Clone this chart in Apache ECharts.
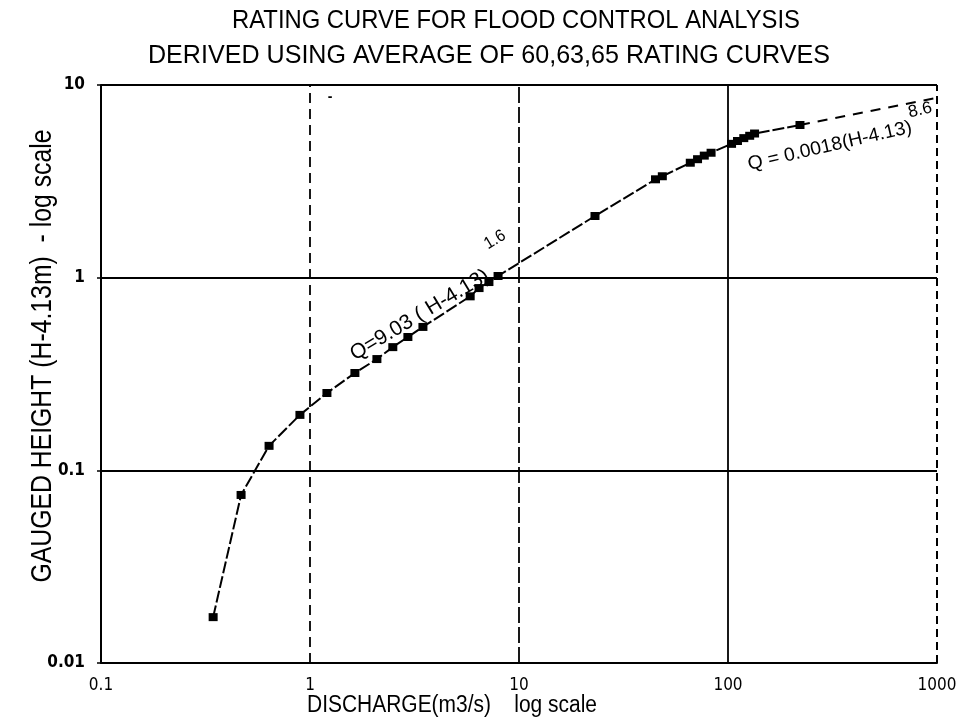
<!DOCTYPE html>
<html><head><meta charset="utf-8">
<script src="https://cdn.jsdelivr.net/npm/echarts@6/dist/echarts.min.js"></script>
<style>html,body{margin:0;padding:0;background:#fff}#c{width:966px;height:723px}</style>
</head><body><div id="c"></div>
<script>
// Rating curve observations (discharge m3/s, gauged height H-4.13 m)
const discharge    = [0.344, 0.468, 0.637, 0.895, 1.205, 1.64, 2.09, 2.49, 2.94, 3.47, 5.84, 6.44, 7.18, 7.94, 23.1, 45, 48.5, 66, 71.5, 77, 83, 104, 111, 119, 127, 134, 221];
const gaugedHeight = [0.0173, 0.0745, 0.134, 0.194, 0.252, 0.32, 0.378, 0.436, 0.492, 0.555, 0.80, 0.883, 0.949, 1.02, 2.09, 3.24, 3.36, 3.95, 4.12, 4.3, 4.45, 4.95, 5.12, 5.3, 5.45, 5.6, 6.2];
// dashed extrapolation
const extDischarge = [221, 980];
const extHeight    = [6.2, 8.55];
// tick labels
const xTickLabels = ['0.1', '1', '10', '100', '1000'];
const yTickLabels = ['0.01', '0.1', '1', '10'];

const NARROW = '"Liberation Sans Narrow","DejaVu Sans Condensed",sans-serif';
const SANS = '"Liberation Sans",Arial,sans-serif';

const chart = echarts.init(document.getElementById('c'), null, {renderer: 'canvas'});
const pts = discharge.map((d, i) => [d, gaugedHeight[i]]);
const ext = extDischarge.map((d, i) => [d, extHeight[i]]);

function fmt(v, list) {
  for (const s of list) if (Math.abs(parseFloat(s) - v) / v < 1e-6) return s;
  return '';
}

const option = {
  animation: false,
  backgroundColor: '#fff',
  grid: {left: 101, right: 29, top: 85, bottom: 60},
  xAxis: {
    type: 'log', logBase: 10, min: 0.1, max: 1000,
    axisLine: {show: true, lineStyle: {color: '#000', width: 2}},
    axisTick: {show: false},
    splitLine: {show: false},
    minorTick: {show: false},
    axisLabel: {color: '#000', fontFamily: NARROW, fontSize: 17, margin: 14,
      formatter: v => fmt(v, xTickLabels)}
  },
  yAxis: {
    type: 'log', logBase: 10, min: 0.01, max: 10,
    axisLine: {show: true, lineStyle: {color: '#000', width: 2}},
    axisTick: {show: true, length: 4, lineStyle: {color: '#000', width: 1.5}},
    splitLine: {show: false},
    axisLabel: {color: '#000', fontFamily: NARROW, fontSize: 17, margin: 16, fontWeight: 'bold',
      formatter: v => fmt(v, yTickLabels)}
  },
  series: [
    {
      type: 'line', data: [], silent: true,
      markLine: {
        silent: true, symbol: 'none', label: {show: false}, animation: false,
        data: [
          {xAxis: 1, lineStyle: {color: '#000', width: 1.8, type: [10, 6]}},
          {xAxis: 10, lineStyle: {color: '#000', width: 1.8, type: [16, 4]}},
          {xAxis: 100, lineStyle: {color: '#000', width: 1.8, type: 'solid'}},
          {xAxis: 1000, lineStyle: {color: '#000', width: 2, type: [8, 5]}},
          {yAxis: 0.1, lineStyle: {color: '#000', width: 1.8, type: 'solid'}},
          {yAxis: 1, lineStyle: {color: '#000', width: 1.8, type: 'solid'}},
          {yAxis: 10, lineStyle: {color: '#000', width: 2, type: 'solid'}}
        ]
      }
    },
    {
      type: 'line', data: pts, silent: true,
      symbol: 'rect', symbolSize: [9, 8], showSymbol: true,
      itemStyle: {color: '#000'},
      lineStyle: {color: '#000', width: 2, type: [12, 3]},
      z: 5
    },
    {
      type: 'line', data: ext, silent: true, symbol: 'none',
      lineStyle: {color: '#000', width: 2, type: [10, 8]},
      z: 5
    }
  ]
};
chart.setOption(option);

// measure helper to fit condensed text into the reference widths
const mctx = document.createElement('canvas').getContext('2d');
function textEl(x, y, text, font, targetW, rotDeg) {
  mctx.font = font;
  const w = mctx.measureText(text).width;
  const sx = targetW ? targetW / w : 1;
  return {
    type: 'text', x: x, y: y, scaleX: sx, rotation: (rotDeg || 0) * Math.PI / 180,
    style: {text: text, fill: '#000', font: font, align: 'center', verticalAlign: 'middle'}
  };
}

// annotations anchored in data space
const notes = [
  {at: [3.35, 0.64], text: 'Q=9.03 ( H-4.13)', font: '21px ' + SANS, w: 158, rot: 31},
  {at: [7.67, 1.57], text: '1.6', font: '17px ' + SANS, w: 22, rot: 31},
  {at: [307, 4.82], text: 'Q = 0.0018(H-4.13)', font: '19px ' + SANS, w: 168, rot: 13},
  {at: [830, 7.4], text: '8.6', font: '17px ' + SANS, w: 24, rot: 13}
];
const g = notes.map(n => {
  const p = chart.convertToPixel({gridIndex: 0}, n.at);
  return textEl(p[0], p[1], n.text, n.font, n.w, n.rot);
});
g.push(textEl(516, 21, 'RATING CURVE FOR FLOOD CONTROL ANALYSIS', '26px ' + SANS, 568, 0));
g.push(textEl(489, 56, 'DERIVED USING AVERAGE OF 60,63,65 RATING CURVES', '26px ' + SANS, 682, 0));
g.push(textEl(452, 706, 'DISCHARGE(m3/s)    log scale', '23px ' + SANS, 290, 0));
g.push(textEl(43, 356, 'GAUGED HEIGHT (H-4.13m)  - log scale', '29px ' + SANS, 453, 90));
g.push({type: 'text', x: 330, y: 97, style: {text: '-', fill: '#000', font: 'bold 14px ' + SANS,
  align: 'center', verticalAlign: 'middle'}});
chart.setOption({graphic: g});
</script>
</body></html>
